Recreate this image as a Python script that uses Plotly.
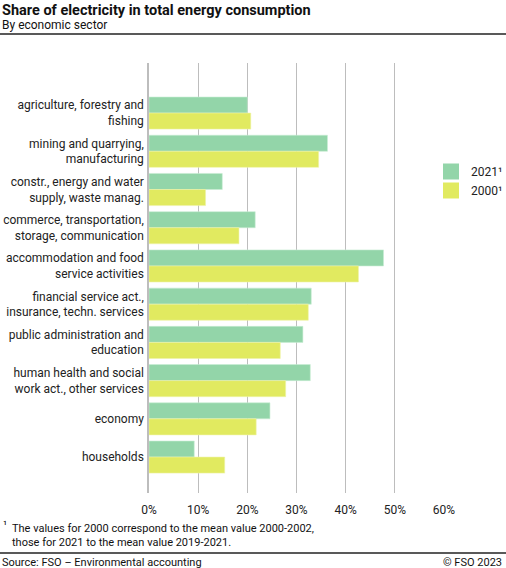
import plotly.graph_objects as go

# data (share in %)
sectors = [
    "agriculture, forestry and<br>fishing",
    "mining and quarrying,<br>manufacturing",
    "constr., energy and water<br>supply, waste manag.",
    "commerce, transportation,<br>storage, communication",
    "accommodation and food<br>service activities",
    "financial service act.,<br>insurance, techn. services",
    "public administration and<br>education",
    "human health and social<br>work act., other services",
    "economy",
    "households",
]
share_2021 = [20.0, 36.3, 14.9, 21.6, 47.7, 33.0, 31.3, 32.8, 24.6, 9.2]
share_2000 = [20.7, 34.5, 11.5, 18.3, 42.6, 32.4, 26.7, 27.8, 21.8, 15.4]
x_ticks = [0, 10, 20, 30, 40, 50, 60]
x_tick_labels = ["0%", "10%", "20%", "30%", "40%", "50%", "60%"]

GREEN = "#93d5a9"
YELLOW = "#e1ea60"
FONT = "Roboto, Arial, sans-serif"

W, H = 506, 568
L, R, T, B = 149, 444, 63, 493


def px_x(p):
    return (p - L) / (R - L)


def px_y(p):
    return (B - p) / (B - T)


fig = go.Figure()
fig.add_trace(go.Bar(y=sectors, x=share_2021, orientation="h", name="2021¹",
                     marker=dict(color=GREEN, line=dict(color="#c8ecd3", width=0.6)),
                     showlegend=False))
fig.add_trace(go.Bar(y=sectors, x=share_2000, orientation="h", name="2000¹",
                     marker=dict(color=YELLOW, line=dict(color="#eef4a8", width=0.6)),
                     showlegend=False))

# legend entries with larger square swatches
for name, col in [("2021¹", GREEN), ("2000¹", YELLOW)]:
    fig.add_trace(go.Scatter(x=[None], y=[None], mode="markers", name=name,
                             marker=dict(symbol="square", size=16, color=col)))

fig.update_layout(
    width=W, height=H,
    margin=dict(l=L, r=W - R, t=T, b=H - B, autoexpand=False),
    paper_bgcolor="white", plot_bgcolor="white",
    font=dict(family=FONT, size=12, color="#222222"),
    barmode="group", bargap=0.16, bargroupgap=0,
    legend=dict(x=px_x(431), y=px_y(157), xanchor="left", yanchor="top",
                font=dict(size=12), tracegroupgap=2, itemwidth=30,
                bgcolor="rgba(0,0,0,0)"),
    xaxis=dict(range=[0, 60], tickvals=x_ticks, ticktext=x_tick_labels,
               showgrid=True, gridcolor="#bdbdbd", gridwidth=1,
               zeroline=False, showline=False, ticks="", fixedrange=True,
               automargin=False, ticklabelstandoff=8,
               tickfont=dict(size=12, color="#222222")),
    yaxis=dict(categoryorder="array", categoryarray=sectors,
               range=[9.94, -1.31], showgrid=False, ticks="",
               showline=True, linecolor="#bdbdbd", linewidth=1.5,
               automargin=False, fixedrange=True,
               tickfont=dict(size=12, color="#222222"), ticklabelstandoff=1),
)

anns = [
    ("<b>Share of electricity in total energy consumption</b>", 0, 10, 14.5),
    ("By economic sector", 0, 25, 12),
    ("Source: FSO – Environmental accounting", 0, 562, 11),
]
for text, x, y, size in anns:
    fig.add_annotation(text=text, x=px_x(x), y=px_y(y), xref="paper", yref="paper",
                       xanchor="left", yanchor="middle", showarrow=False,
                       font=dict(size=size, color="#111111"))

fig.add_annotation(text="© FSO 2023", x=px_x(504), y=px_y(562), xref="paper",
                   yref="paper", xanchor="right", yanchor="middle", showarrow=False,
                   font=dict(size=11, color="#111111"))
fig.add_annotation(text="¹", x=px_x(1), y=px_y(525), xref="paper", yref="paper",
                   xanchor="left", yanchor="middle", showarrow=False,
                   font=dict(size=11, color="#111111"))
fig.add_annotation(text="The values for 2000 correspond to the mean value 2000-2002,<br>"
                        "those for 2021 to the mean value 2019-2021.",
                   x=px_x(10), y=px_y(520), xref="paper", yref="paper",
                   xanchor="left", yanchor="top", align="left", showarrow=False,
                   font=dict(size=11, color="#111111"))

for yline in (34, 553):
    fig.add_shape(type="line", xref="paper", yref="paper",
                  x0=px_x(0), x1=px_x(W), y0=px_y(yline), y1=px_y(yline),
                  line=dict(color="#222222", width=1.5))

# the default page body has an 8px margin; drop it so the chart fills the window
fig.write_html("out.html", config={"displayModeBar": False},
               post_script="document.body.style.margin='0';")
